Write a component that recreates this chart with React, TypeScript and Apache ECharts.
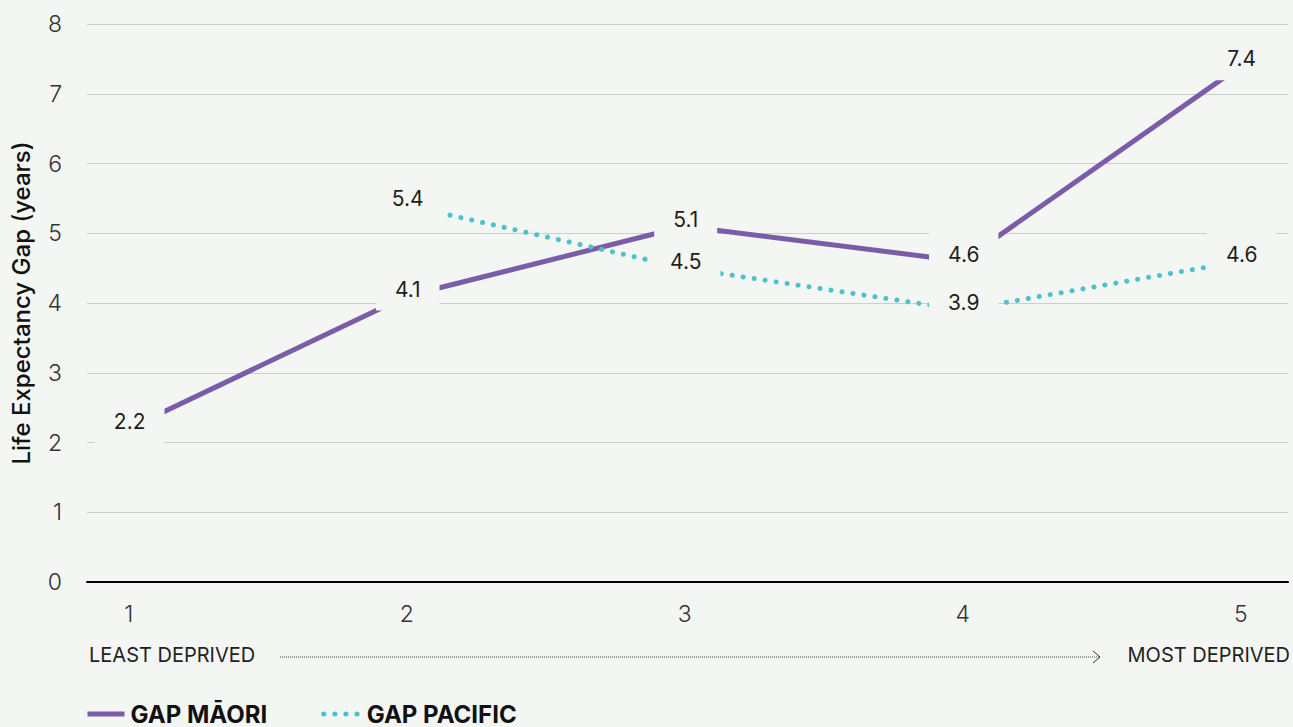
import React, { useEffect, useRef } from "react";
import * as echarts from "echarts";

const categories = [1, 2, 3, 4, 5];
const gapMaori = [2.2, 4.1, 5.1, 4.6, 7.4];
const gapPacific = [null, 5.4, 4.5, 3.9, 4.6];
const yTicks = [0, 1, 2, 3, 4, 5, 6, 7, 8];
const seriesNames = ["GAP MĀORI", "GAP PACIFIC"];
const axisTitle = "Life Expectancy Gap (years)";
const leftNote = "LEAST DEPRIVED";
const rightNote = "MOST DEPRIVED";

const BG = "#f4f6f3";
const PURPLE = "#7a5ca8";
const TEAL = "#4cc2cb";
const FONT = "Inter, 'Noto Sans', sans-serif";

export default function App() {
  const ref = useRef<HTMLDivElement>(null);
  useEffect(() => {
    if (!ref.current) return;
    const chart = echarts.init(ref.current, undefined, { renderer: "svg" });
    const labelCfg = {
      show: true,
      position: "inside",
      offset: [1, -7],
      fontSize: 21,
      fontFamily: FONT,
      color: "#1e1e1e",
      backgroundColor: BG,
      padding: [11, 19],
      formatter: (p: any) => String(p.value[1]),
    };
    chart.setOption({
      animation: false,
      backgroundColor: BG,
      textStyle: { fontFamily: FONT },
      grid: { left: 87, right: 5, top: 24, bottom: 145, containLabel: false, outerBoundsMode: "none" },
      xAxis: {
        type: "value",
        min: 0.85,
        max: 5.17,
        axisLine: { show: true, onZero: true, lineStyle: { color: "#000", width: 2 } },
        axisTick: { show: false },
        splitLine: { show: false },
        axisLabel: {
          customValues: categories,
          fontSize: 23,
          fontWeight: 300,
          color: "#333",
          fontFamily: FONT,
          margin: 20,
          formatter: (v: number) => String(v),
        },
      },
      yAxis: {
        type: "value",
        min: yTicks[0],
        max: yTicks[yTicks.length - 1],
        interval: 1,
        name: axisTitle,
        nameLocation: "middle",
        nameGap: 54,
        nameTextStyle: { fontSize: 24, fontWeight: 500, color: "#111", fontFamily: FONT },
        axisLine: { show: false },
        axisTick: { show: false },
        axisLabel: { fontSize: 23, fontWeight: 300, color: "#333", fontFamily: FONT, margin: 25 },
        splitLine: { lineStyle: { color: "#cdcdcd", width: 1 } },
      },
      legend: {
        left: 85,
        top: 702,
        padding: 0,
        itemWidth: 37,
        itemHeight: 14,
        itemGap: 54,
        itemStyle: { opacity: 0 },
        lineStyle: { width: 5 },
        textStyle: { fontSize: 24, fontWeight: "bold", color: "#111", fontFamily: FONT, padding: [0, 0, 0, 1] },
        data: seriesNames,
      },
      series: [
        {
          name: seriesNames[0],
          type: "line",
          data: categories.map((c, i) => [c, gapMaori[i]]),
          symbol: "circle",
          symbolSize: 2,
          itemStyle: { color: PURPLE },
          lineStyle: { color: PURPLE, width: 5 },
          label: labelCfg,
        },
        {
          name: seriesNames[1],
          type: "line",
          data: categories
            .map((c, i) => [c, gapPacific[i]])
            .filter((d) => d[1] !== null),
          symbol: "circle",
          symbolSize: 2,
          itemStyle: { color: TEAL },
          lineStyle: { color: TEAL, width: 5, type: [0.1, 11], cap: "round" },
          label: labelCfg,
        },
      ],
      graphic: [
        {
          type: "text",
          left: 89,
          top: 645,
          style: { text: leftNote, fontSize: 20, fill: "#222", fontFamily: FONT },
        },
        {
          type: "text",
          right: 3,
          top: 645,
          style: { text: rightNote, fontSize: 20, fill: "#222", fontFamily: FONT },
        },
        {
          type: "line",
          shape: { x1: 280, y1: 657, x2: 1099, y2: 657 },
          style: { stroke: "#444", lineWidth: 1, lineDash: [1, 1] },
        },
        {
          type: "polyline",
          shape: { points: [[1093, 651], [1100, 657], [1093, 663]] },
          style: { stroke: "#333", lineWidth: 1, fill: null },
        },
      ],
    });
    return () => chart.dispose();
  }, []);
  return <div ref={ref} style={{ width: 1293, height: 727, position: "absolute", left: 0, top: 0 }} />;
}
